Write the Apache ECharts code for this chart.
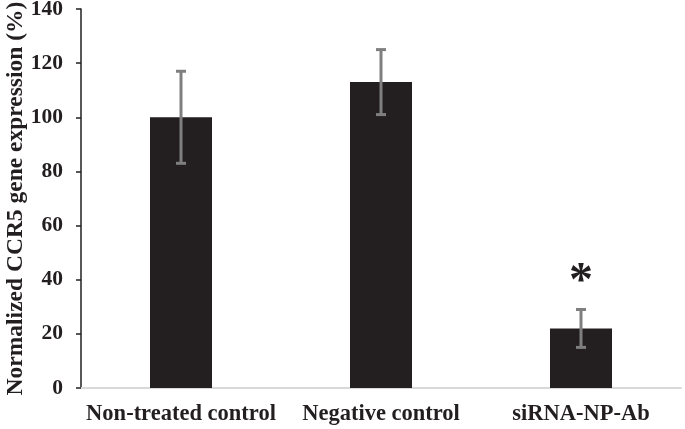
<!DOCTYPE html>
<html><head><meta charset="utf-8">
<script src="https://cdn.jsdelivr.net/npm/echarts@6/dist/echarts.min.js"></script>
<style>html,body{margin:0;padding:0;background:#fff}#c{width:685px;height:429px}</style>
</head><body><div id="c"></div>
<script>
const categories = ['Non-treated control', 'Negative control', 'siRNA-NP-Ab'];
const means = [100, 113, 22];
const errors = [17, 12, 7];
const significance = ['', '', '*'];
const significanceY = [0, 0, 39];
const yTicks = [0, 20, 40, 60, 80, 100, 120, 140];

const font = '"Liberation Serif", "Times New Roman", serif';
const chart = echarts.init(document.getElementById('c'));
chart.setOption({
  animation: false,
  grid: { left: 81, right: 4, top: 9, bottom: 41, containLabel: false, outerBoundsMode: 'none' },
  xAxis: {
    type: 'category', data: categories,
    axisLine: { lineStyle: { color: '#d9d9d9', width: 2 } },
    axisTick: { show: false },
    axisLabel: { interval: 0, hideOverlap: false, color: '#231f20', fontFamily: font, fontWeight: 'bold', fontSize: 22.5, margin: 15 }
  },
  yAxis: {
    type: 'value', min: yTicks[0], max: yTicks[yTicks.length - 1], interval: 20,
    name: 'Normalized CCR5 gene expression (%)', nameLocation: 'middle', nameGap: 53, nameMoveOverlap: false,
    nameTextStyle: { color: '#231f20', fontFamily: font, fontWeight: 'bold', fontSize: 23.5 },
    axisLine: { show: true, lineStyle: { color: '#231f20', width: 1.5 } },
    axisTick: { show: true, length: 5, lineStyle: { color: '#231f20', width: 1.5 } },
    splitLine: { show: false },
    axisLabel: { color: '#231f20', fontFamily: font, fontWeight: 'bold', fontSize: 21.5, margin: 18 }
  },
  series: [
    {
      type: 'bar', data: means, barWidth: 62,
      itemStyle: { color: '#231f20' }
    },
    {
      type: 'custom',
      data: means.map((m, i) => [i, m - errors[i], m + errors[i]]),
      renderItem: function (params, api) {
        const lo = api.coord([api.value(0), api.value(1)]);
        const hi = api.coord([api.value(0), api.value(2)]);
        const x = lo[0], cw = 5;
        const st = { stroke: '#7f7f7f', lineWidth: 3 };
        return { type: 'group', children: [
          { type: 'line', shape: { x1: x, y1: lo[1], x2: x, y2: hi[1] }, style: st },
          { type: 'line', shape: { x1: x - cw, y1: lo[1], x2: x + cw, y2: lo[1] }, style: st },
          { type: 'line', shape: { x1: x - cw, y1: hi[1], x2: x + cw, y2: hi[1] }, style: st }
        ]};
      },
      z: 5
    },
    {
      type: 'scatter', symbolSize: 1, itemStyle: { opacity: 0 },
      data: significance.map((s, i) => s ? { value: [i, significanceY[i]], name: s } : null).filter(Boolean),
      label: { show: true, position: 'inside', formatter: p => p.name, color: '#231f20', opacity: 1,
               fontFamily: font, fontWeight: 'bold', fontSize: 48, lineHeight: 48 }
    }
  ]
});
</script></body></html>
